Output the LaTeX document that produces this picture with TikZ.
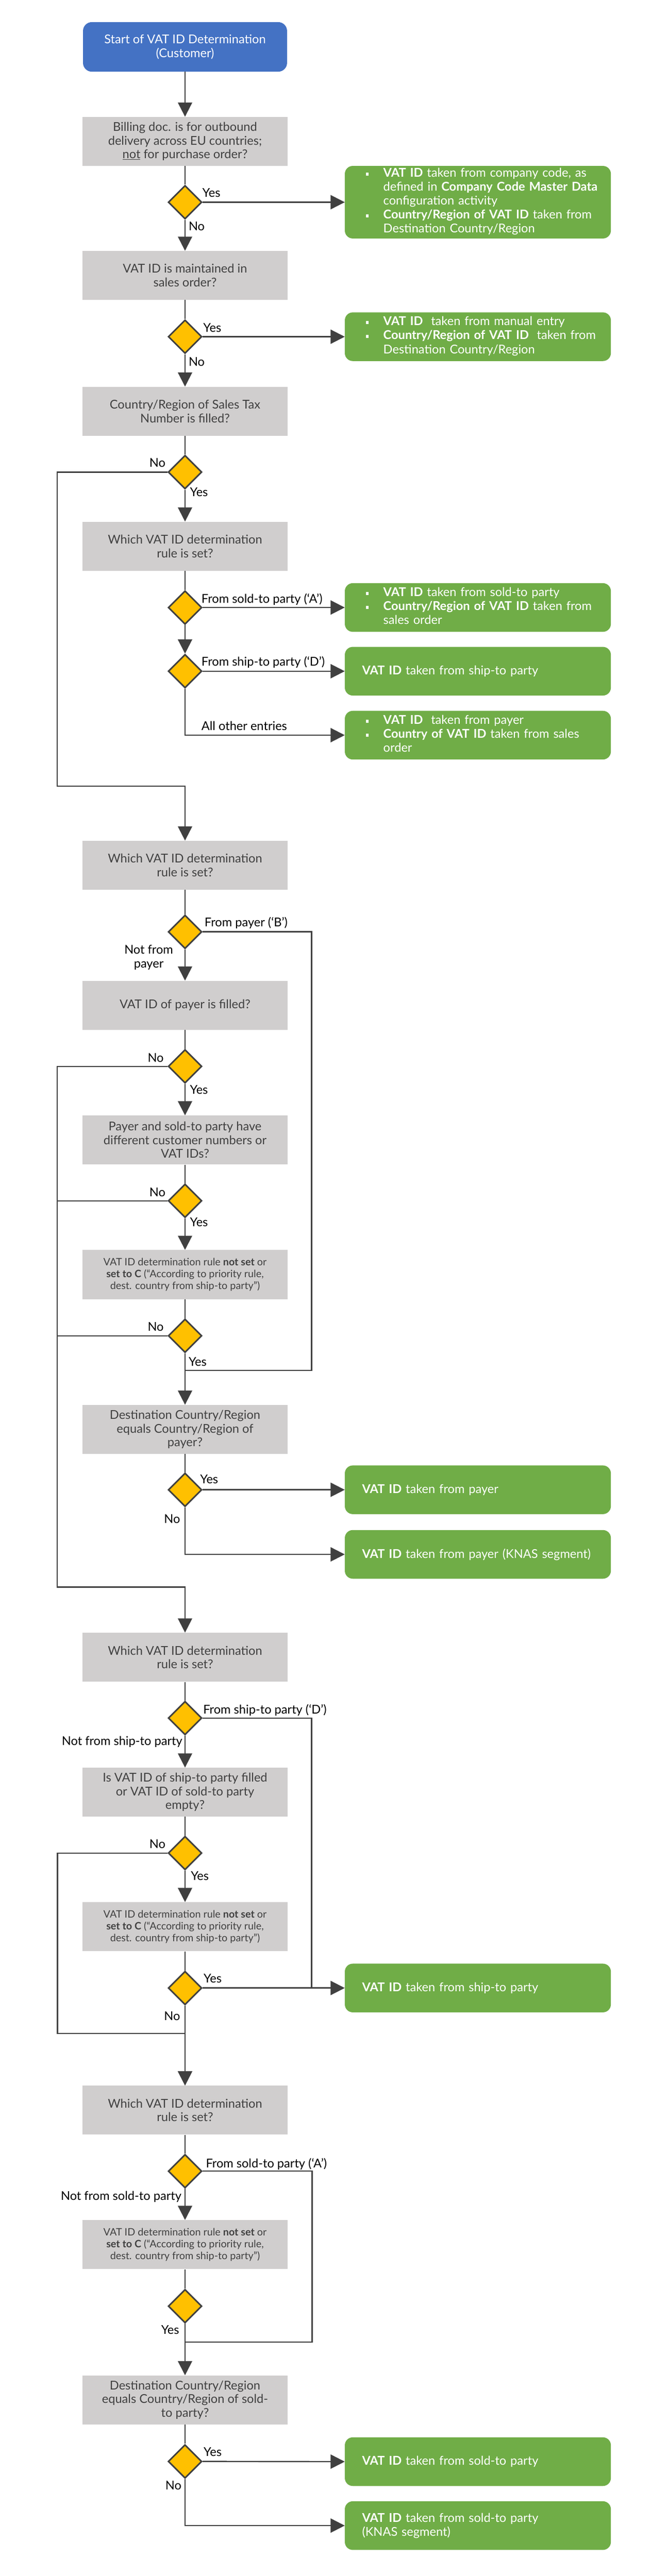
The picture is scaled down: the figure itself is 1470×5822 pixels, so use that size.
\documentclass[tikz,border=0pt]{standalone}
\usepackage{fontspec}
\setmainfont{Lato}
\usetikzlibrary{arrows.meta,shapes.geometric}
\definecolor{bluec}{HTML}{4472C4}
\definecolor{grayc}{HTML}{D0CECE}
\definecolor{greenc}{HTML}{70AD47}
\definecolor{yelc}{HTML}{FFC000}
\definecolor{linec}{HTML}{404040}
\definecolor{txtc}{HTML}{404040}
\newcommand\fsmain{\fontsize{27.5}{31}\selectfont}
\newcommand\fsgreen{\fontsize{27.5}{31.5}\selectfont}
\newcommand\fssmall{\fontsize{23}{27}\selectfont}
\newcommand\gbul{\rule[3pt]{6pt}{7pt}}
\newcommand\gitems[1]{\begin{tabular}{@{\hspace{9pt}}p{39pt}@{}l@{}}#1\end{tabular}}
\newcommand\ruletext{VAT ID determination rule \textbf{not set} or\\\textbf{set to C} (“According to priority rule,\\dest. country from ship-to party”)}
\begin{document}
\begin{tikzpicture}[x=1pt,y=-1pt,
  graybox/.style={rectangle,fill=grayc,minimum width=463pt,minimum height=111pt,inner sep=0pt,text=txtc,align=center,font=\fsmain},
  smallbox/.style={graybox,font=\fssmall},
  startbox/.style={rectangle,rounded corners=20pt,fill=bluec,minimum width=461pt,minimum height=112pt,inner sep=0pt,text=white,align=center,font=\fsmain},
  greenbox/.style={rectangle,rounded corners=18pt,fill=greenc,minimum width=601pt,minimum height=110pt,text width=523pt,inner xsep=39pt,inner ysep=0pt,align=left,text=white,font=\fsgreen},
  dec/.style={diamond,fill=yelc,draw=linec,line width=3.5pt,minimum width=76pt,minimum height=76pt,inner sep=0pt},
  conn/.style={draw=linec,line width=2.8pt},
  arr/.style={conn,-{Triangle[length=32pt,width=32pt]}},
  lab/.style={font=\fsmain,text=black,inner sep=0pt}]
\fill[white] (0,0) rectangle (1470,5822);
\useasboundingbox (0,0) rectangle (1470,5822);

% start
\node[startbox] (s) at (418,106) {Start of VAT ID Determination\\(Customer)};

% gray question boxes
\node[graybox] (b1) at (418,319.5) {Billing doc. is for outbound\\delivery across EU countries;\\\underline{not} for purchase order?};
\node[graybox] (b2) at (418,622.5) {VAT ID is maintained in\\sales order?};
\node[graybox] (b3) at (418,929.5) {Country/Region of Sales Tax\\Number is filled?};
\node[graybox] (b4) at (418,1234.5) {Which VAT ID determination\\rule is set?};
\node[graybox] (b5) at (418,1955.5) {Which VAT ID determination\\rule is set?};
\node[graybox] (b6) at (418,2272) {VAT ID of payer is filled?};
\node[graybox] (b7) at (418,2576.5) {Payer and sold-to party have\\different customer numbers or\\VAT IDs?};
\node[smallbox] (b8) at (418,2880.5) {\ruletext};
\node[graybox] (b9) at (418,3230.5) {Destination Country/Region\\equals Country/Region of\\payer?};
\node[graybox] (b10) at (418,3745.5) {Which VAT ID determination\\rule is set?};
\node[graybox] (b11) at (418,4050.5) {Is VAT ID of ship-to party filled\\or VAT ID of sold-to party\\empty?};
\node[smallbox] (b12) at (418,4354.5) {\ruletext};
\node[graybox] (b13) at (418,4769) {Which VAT ID determination\\rule is set?};
\node[smallbox] (b14) at (418,5073) {\ruletext};
\node[graybox] (b15) at (418,5424) {Destination Country/Region\\equals Country/Region of sold-\\to party?};

% decisions
\node[dec] (d1) at (418,457) {};
\node[dec] (d2) at (418,761) {};
\node[dec] (d3) at (418,1067) {};
\node[dec] (d4) at (418,1373) {};
\node[dec] (d5) at (418,1517) {};
\node[dec] (d6) at (418,2106) {};
\node[dec] (d7) at (418,2410) {};
\node[dec] (d8) at (418,2714) {};
\node[dec] (d9) at (418,3019) {};
\node[dec] (d10) at (418,3367) {};
\node[dec] (d11) at (418,3883) {};
\node[dec] (d12) at (418,4188) {};
\node[dec] (d13) at (418,4493) {};
\node[dec] (d14) at (418,4907) {};
\node[dec] (d15) at (418,5212) {};
\node[dec] (d16) at (418,5563) {};

% results
\node[greenbox,minimum height=164pt] (g1) at (1079.5,457) {\gitems{\gbul & \textbf{VAT ID} taken from company code, as\\ & defined in \textbf{Company Code Master Data}\\ & configuration activity\\ \gbul & \textbf{Country/Region of VAT ID} taken from\\ & Destination Country/Region}};
\node[greenbox] (g2) at (1079.5,761) {\gitems{\gbul & \textbf{VAT ID}\ \ taken from manual entry\\ \gbul & \textbf{Country/Region of VAT ID}\ \ taken from\\ & Destination Country/Region}};
\node[greenbox] (g3) at (1079.5,1373) {\gitems{\gbul & \textbf{VAT ID} taken from sold-to party\\ \gbul & \textbf{Country/Region of VAT ID} taken from\\ & sales order}};
\node[greenbox] (g4) at (1079.5,1517) {\textbf{VAT ID} taken from ship-to party};
\node[greenbox] (g5) at (1079.5,1661.5) {\gitems{\gbul & \textbf{VAT ID}\ \ taken from payer\\ \gbul & \textbf{Country of VAT ID} taken from sales\\ & order}};
\node[greenbox] (g6) at (1079.5,3367) {\textbf{VAT ID} taken from payer};
\node[greenbox] (g7) at (1079.5,3513) {\textbf{VAT ID} taken from payer (KNAS segment)};
\node[greenbox] (g8) at (1079.5,4493) {\textbf{VAT ID} taken from ship-to party};
\node[greenbox] (g9) at (1079.5,5563.5) {\textbf{VAT ID} taken from sold-to party};
\node[greenbox] (g10) at (1079.5,5708) {\textbf{VAT ID} taken from sold-to party\\(KNAS segment)};

% helper coordinates
\coordinate (L1) at (129,1777);
\coordinate (R1) at (704,3097);
\coordinate (J1) at (418,3097);
\coordinate (L2) at (129,3587);
\coordinate (R2) at (704,4493);
\coordinate (L3) at (130,4596);
\coordinate (R3) at (705,5293);
\coordinate (J3) at (418,5293);

% connectors
\draw[arr] (s.south) -- (b1.north);
\draw[conn] (b1.south) -- (d1.north);
\draw[arr] (d1.east) -- (g1.west);
\draw[arr] (d1.south) -- (b2.north);
\draw[conn] (b2.south) -- (d2.north);
\draw[arr] (d2.east) -- (g2.west);
\draw[arr] (d2.south) -- (b3.north);
\draw[conn] (b3.south) -- (d3.north);
\draw[arr] (d3.south) -- (b4.north);
\draw[arr] (d3.west) -| (L1) -| (b5.north);
\draw[conn] (b4.south) -- (d4.north);
\draw[arr] (d4.east) -- (g3.west);
\draw[arr] (d4.south) -- (d5.north);
\draw[arr] (d5.east) -- (g4.west);
\draw[arr] (d5.south) |- (g5.west);
\draw[conn] (b5.south) -- (d6.north);
\draw[conn] (d6.east) -| (R1) -- (J1);
\draw[arr] (d6.south) -- (b6.north);
\draw[conn] (b6.south) -- (d7.north);
\draw[arr] (d7.west) -| (L2) -| (b10.north);
\draw[arr] (d7.south) -- (b7.north);
\draw[conn] (b7.south) -- (d8.north);
\draw[conn] (d8.west) -- (d8.west -| L2);
\draw[arr] (d8.south) -- (b8.north);
\draw[conn] (b8.south) -- (d9.north);
\draw[conn] (d9.west) -- (d9.west -| L2);
\draw[arr] (d9.south) -- (b9.north);
\draw[conn] (b9.south) -- (d10.north);
\draw[arr] (d10.east) -- (g6.west);
\draw[arr] (d10.south) |- (g7.west);
\draw[conn] (b10.south) -- (d11.north);
\draw[conn] (d11.east) -| (R2);
\draw[arr] (d11.south) -- (b11.north);
\draw[conn] (b11.south) -- (d12.north);
\draw[arr] (d12.west) -| (L3) -| (b13.north);
\draw[arr] (d12.south) -- (b12.north);
\draw[conn] (b12.south) -- (d13.north);
\draw[arr] (d13.east) -- (g8.west);
\draw[arr] (d13.south) -- (b13.north);
\draw[conn] (b13.south) -- (d14.north);
\draw[conn] (d14.east) -| (R3) -- (J3);
\draw[arr] (d14.south) -- (b14.north);
\draw[conn] (b14.south) -- (d15.north);
\draw[arr] (d15.south) -- (b15.north);
\draw[conn] (b15.south) -- (d16.north);
\draw[arr] (d16.east) -- (g9.west);
\draw[arr] (d16.south) |- (g10.west);

% labels
\node[lab,anchor=base west] (t1) at (457,445) {Yes};
\node[lab,anchor=base west] (t2) at (426,521) {No};
\node[lab,anchor=base west] (t3) at (459,750) {Yes};
\node[lab,anchor=base west] (t4) at (426,827) {No};
\node[lab,anchor=base east] (t5) at (374,1055) {No};
\node[lab,anchor=base west] (t6) at (429,1122) {Yes};
\node[lab,anchor=base west] (t7) at (455,1363) {From sold-to party (‘A’)};
\node[lab,anchor=base west] (t8) at (455,1505) {From ship-to party (‘D’)};
\node[lab,anchor=base west] (t9) at (455,1651) {All other entries};
\node[lab,anchor=base west] (t10) at (462,2094) {From payer (‘B’)};
\node[lab,anchor=base] (t11) at (336,2156) {Not from};
\node[lab,anchor=base] (t12) at (336,2187) {payer};
\node[lab,anchor=base east] (t13) at (370,2400) {No};
\node[lab,anchor=base west] (t14) at (429,2472) {Yes};
\node[lab,anchor=base east] (t15) at (374,2704) {No};
\node[lab,anchor=base west] (t16) at (429,2772) {Yes};
\node[lab,anchor=base east] (t17) at (370,3008) {No};
\node[lab,anchor=base west] (t18) at (426,3087) {Yes};
\node[lab,anchor=base west] (t19) at (452,3353) {Yes};
\node[lab,anchor=base east] (t20) at (407,3442) {No};
\node[lab,anchor=base west] (t21) at (459,3873) {From ship-to party (‘D’)};
\node[lab,anchor=base east] (t22) at (412,3944) {Not from ship-to party};
\node[lab,anchor=base east] (t23) at (374,4177) {No};
\node[lab,anchor=base west] (t24) at (431,4249) {Yes};
\node[lab,anchor=base west] (t25) at (460,4481) {Yes};
\node[lab,anchor=base east] (t26) at (407,4566) {No};
\node[lab,anchor=base west] (t27) at (465,4899) {From sold-to party (‘A’)};
\node[lab,anchor=base east] (t28) at (410,4973) {Not from sold-to party};
\node[lab,anchor=base east] (t29) at (405,5275) {Yes};
\node[lab,anchor=base west] (t30) at (460,5551) {Yes};
\node[lab,anchor=base east] (t31) at (410,5627) {No};
\end{tikzpicture}
\end{document}
